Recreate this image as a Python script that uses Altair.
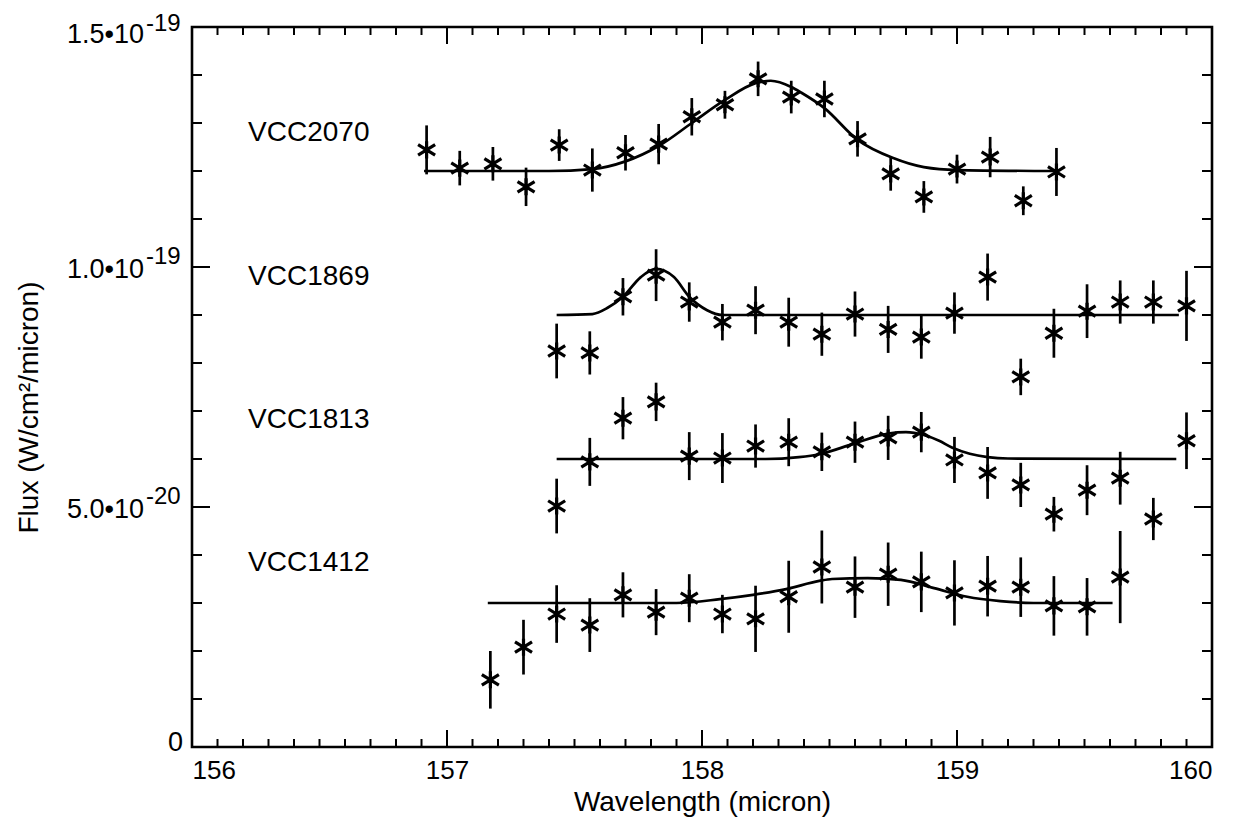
import altair as alt
import pandas as pd

# ---------------- data (flux in units of 1e-20 W/cm^2/micron) -------------
wave_2070 = [156.92, 157.05, 157.18, 157.31, 157.44, 157.57, 157.70, 157.83, 157.96, 158.09,
             158.22, 158.35, 158.48, 158.61, 158.74, 158.87, 159.00, 159.13, 159.26, 159.39]
flux_2070 = [12.44, 12.06, 12.15, 11.67, 12.54, 12.02, 12.38, 12.56, 13.13, 13.38,
             13.92, 13.54, 13.50, 12.67, 11.94, 11.46, 12.04, 12.29, 11.38, 11.98]
err_2070 = [0.51, 0.36, 0.35, 0.40, 0.33, 0.45, 0.37, 0.42, 0.39, 0.29,
            0.36, 0.34, 0.38, 0.37, 0.35, 0.33, 0.30, 0.42, 0.30, 0.50]

wave_1869 = [157.43, 157.56, 157.69, 157.82, 157.95, 158.08, 158.21, 158.34, 158.47, 158.60,
             158.73, 158.86, 158.99, 159.12, 159.25, 159.38, 159.51, 159.64, 159.77, 159.90]
flux_1869 = [8.25, 8.21, 9.38, 9.83, 9.27, 8.85, 9.10, 8.85, 8.60, 9.02,
             8.70, 8.54, 9.04, 9.79, 7.71, 8.62, 9.08, 9.27, 9.27, 9.19]
err_1869 = [0.57, 0.45, 0.39, 0.54, 0.41, 0.38, 0.50, 0.51, 0.45, 0.47,
            0.49, 0.45, 0.43, 0.49, 0.38, 0.51, 0.56, 0.45, 0.45, 0.73]

wave_1813 = [157.43, 157.56, 157.69, 157.82, 157.95, 158.08, 158.21, 158.34, 158.47, 158.60,
             158.73, 158.86, 158.99, 159.12, 159.25, 159.38, 159.51, 159.64, 159.77, 159.90]
flux_1813 = [5.02, 5.94, 6.85, 7.19, 6.06, 6.02, 6.27, 6.35, 6.15, 6.35,
             6.44, 6.56, 5.98, 5.71, 5.46, 4.85, 5.35, 5.60, 4.75, 6.38]
err_1813 = [0.57, 0.50, 0.44, 0.40, 0.50, 0.52, 0.45, 0.50, 0.40, 0.43,
            0.46, 0.42, 0.48, 0.54, 0.46, 0.36, 0.52, 0.55, 0.44, 0.59]

wave_1412 = [157.17, 157.30, 157.43, 157.56, 157.69, 157.82, 157.95, 158.08, 158.21, 158.34,
             158.47, 158.60, 158.73, 158.86, 158.99, 159.12, 159.25, 159.38, 159.51, 159.64]
flux_1412 = [1.40, 2.08, 2.77, 2.54, 3.17, 2.81, 3.10, 2.77, 2.67, 3.13,
             3.75, 3.33, 3.60, 3.44, 3.21, 3.35, 3.33, 2.94, 2.92, 3.54]
err_1412 = [0.60, 0.57, 0.60, 0.56, 0.47, 0.48, 0.50, 0.40, 0.69, 0.75,
            0.76, 0.64, 0.66, 0.63, 0.68, 0.63, 0.62, 0.62, 0.60, 0.96]

# fitted Gaussian-line curves, sampled from the figure
fit_wave_2070 = [156.91, 157.40, 157.57, 157.70, 157.83, 157.96, 158.09, 158.21, 158.27,
                 158.35, 158.39, 158.48, 158.61, 158.75, 158.87, 159.00, 159.38]
fit_flux_2070 = [12.0, 12.0, 12.04, 12.2, 12.52, 13.0, 13.48, 13.83, 13.88,
                 13.75, 13.63, 13.31, 12.65, 12.27, 12.08, 12.02, 12.0]

fit_wave_1869 = [157.43, 157.57, 157.63, 157.69, 157.76, 157.82, 157.89, 157.95, 158.02,
                 158.08, 159.87]
fit_flux_1869 = [9.0, 9.02, 9.15, 9.38, 9.79, 9.96, 9.79, 9.38, 9.10, 9.0, 9.0]

fit_wave_1813 = [157.43, 158.25, 158.38, 158.46, 158.59, 158.73, 158.80, 158.87, 158.93,
                 158.98, 159.05, 159.12, 159.20, 159.86]
fit_flux_1813 = [6.0, 6.0, 6.04, 6.10, 6.31, 6.53, 6.56, 6.50, 6.38, 6.24, 6.11, 6.04, 6.01, 6.0]

fit_wave_1412 = [157.16, 157.90, 158.07, 158.20, 158.33, 158.46, 158.51, 158.65, 158.78,
                 158.91, 159.04, 159.17, 159.30, 159.61]
fit_flux_1412 = [3.0, 3.0, 3.08, 3.17, 3.29, 3.46, 3.50, 3.52, 3.48, 3.31, 3.13, 3.04, 3.0, 3.0]

label_names = ["VCC2070", "VCC1869", "VCC1813", "VCC1412"]
label_wave = [156.22, 156.22, 156.22, 156.22]
label_flux = [12.79, 9.79, 6.81, 3.83]

x_major = [156, 157, 158, 159, 160]
x_inner_major = [157, 158, 159]
x_minor = [156.1, 156.2, 156.3, 156.4, 156.5, 156.6, 156.7, 156.8, 156.9,
           157.1, 157.2, 157.3, 157.4, 157.5, 157.6, 157.7, 157.8, 157.9,
           158.1, 158.2, 158.3, 158.4, 158.5, 158.6, 158.7, 158.8, 158.9,
           159.1, 159.2, 159.3, 159.4, 159.5, 159.6, 159.7, 159.8, 159.9]
y_axis_values = [0, 5, 10, 15]
y_zero = [0]
y_zero_label = ["0"]
y_exp_ticks = [5, 10, 15]
y_mantissa = ["5.0\u202210", "1.0\u202210", "1.5\u202210"]
y_exponent = ["-20", "-19", "-19"]
y_inner_major = [5, 10]
y_minor = [1, 2, 3, 4, 6, 7, 8, 9, 11, 12, 13, 14]

# ---------------- build tables ----------------
frames = []
for name, w, f, e in [("VCC2070", wave_2070, flux_2070, err_2070),
                      ("VCC1869", wave_1869, flux_1869, err_1869),
                      ("VCC1813", wave_1813, flux_1813, err_1813),
                      ("VCC1412", wave_1412, flux_1412, err_1412)]:
    frames.append(pd.DataFrame({"name": name, "wave": w, "flux": f, "err": e}))
pts = pd.concat(frames, ignore_index=True)
pts["lo"] = pts["flux"] - pts["err"]
pts["hi"] = pts["flux"] + pts["err"]

fits = pd.concat([
    pd.DataFrame({"name": "VCC2070", "wave": fit_wave_2070, "flux": fit_flux_2070}),
    pd.DataFrame({"name": "VCC1869", "wave": fit_wave_1869, "flux": fit_flux_1869}),
    pd.DataFrame({"name": "VCC1813", "wave": fit_wave_1813, "flux": fit_flux_1813}),
    pd.DataFrame({"name": "VCC1412", "wave": fit_wave_1412, "flux": fit_flux_1412}),
], ignore_index=True)

labels = pd.DataFrame({"name": label_names, "wave": label_wave, "flux": label_flux})
ylab_zero = pd.DataFrame({"flux": y_zero, "txt": y_zero_label})
ylab_exp = pd.DataFrame({"flux": y_exp_ticks, "man": y_mantissa, "ex": y_exponent})

W, H = 1020, 720
XT = "Wavelength (micron)"
YT = "Flux (W/cm\u00b2/micron)"
xscale = alt.Scale(domain=[156, 160], nice=False, zero=False)
yscale = alt.Scale(domain=[0, 15], nice=False, zero=False)

x_axis = alt.Axis(values=x_major, format="d", ticks=False, domain=False, grid=False,
                  labelFontSize=26, labelPadding=10, labelColor="black",
                  titleFontSize=28, titleFontWeight="normal", titleColor="black",
                  titlePadding=5)
y_axis = alt.Axis(values=y_axis_values, labels=False, ticks=False,
                  domain=False, grid=False,
                  titleFontSize=28, titleFontWeight="normal", titleColor="black",
                  titleX=-149, titleY=380, titleAngle=270, titleBaseline="bottom",
                  titleAlign="center")

X = alt.X("wave:Q", scale=xscale, title=XT)
Y = alt.Y("flux:Q", scale=yscale, title=YT)

ink = "black"
star = "M-1,-0.62L1,0.62M-1,0.62L1,-0.62M0,-1L0,1"

bars = alt.Chart(pts).mark_rule(color=ink, strokeWidth=2.7).encode(
    x=alt.X("wave:Q", scale=xscale, title=XT, axis=x_axis),
    y=alt.Y("lo:Q", scale=yscale, title=YT, axis=y_axis),
    y2="hi:Q")

stars = alt.Chart(pts).mark_point(shape=star, size=290, filled=False, color=ink,
                                   strokeWidth=3.2, opacity=1).encode(x=X, y=Y)

lines = alt.Chart(fits).mark_line(color=ink, strokeWidth=2.7, interpolate="monotone").encode(
    x=X, y=Y, detail="name:N")

texts = alt.Chart(labels).mark_text(align="left", baseline="middle", fontSize=28,
                                    color=ink).encode(x=X, y=Y, text="name:N")

# y tick labels written as mantissa plus raised exponent
zero_lab = alt.Chart(ylab_zero).mark_text(align="right", baseline="middle", fontSize=27,
                                          color=ink, dy=-4).encode(
    x=alt.value(-9), y=Y, text="txt:N")
man_lab = alt.Chart(ylab_exp).transform_filter("datum.flux < 15").mark_text(
    align="right", baseline="middle", fontSize=27, color=ink, dy=3).encode(
    x=alt.value(-48), y=Y, text="man:N")
exp_lab = alt.Chart(ylab_exp).transform_filter("datum.flux < 15").mark_text(
    align="left", baseline="middle", fontSize=24, color=ink, dy=-10).encode(
    x=alt.value(-46), y=Y, text="ex:N")
# the top label sits a little lower, as in the figure, so it stays on the page
man_top = alt.Chart(ylab_exp).transform_filter("datum.flux >= 15").mark_text(
    align="right", baseline="middle", fontSize=27, color=ink, dy=8).encode(
    x=alt.value(-48), y=Y, text="man:N")
exp_top = alt.Chart(ylab_exp).transform_filter("datum.flux >= 15").mark_text(
    align="left", baseline="middle", fontSize=24, color=ink, dy=-3).encode(
    x=alt.value(-46), y=Y, text="ex:N")


def xticks(vals, length):
    d = pd.DataFrame({"wave": vals})
    b = alt.Chart(d).mark_rule(color=ink, strokeWidth=2).encode(
        x=X, y=alt.value(H), y2=alt.value(H - length))
    t = alt.Chart(d).mark_rule(color=ink, strokeWidth=2).encode(
        x=X, y=alt.value(0), y2=alt.value(length))
    return [b, t]


def yticks(vals, length):
    d = pd.DataFrame({"flux": vals})
    l = alt.Chart(d).mark_rule(color=ink, strokeWidth=2).encode(
        y=Y, x=alt.value(0), x2=alt.value(length))
    r = alt.Chart(d).mark_rule(color=ink, strokeWidth=2).encode(
        y=Y, x=alt.value(W), x2=alt.value(W - length))
    return [l, r]


tick_layers = (xticks(x_minor, 8) + xticks(x_inner_major, 17)
               + yticks(y_minor, 10) + yticks(y_inner_major, 18))

chart = alt.layer(bars, *tick_layers, lines, stars, texts,
                  zero_lab, man_lab, exp_lab, man_top, exp_top).properties(
    width=W, height=H,
    autosize=alt.AutoSizeParams(type="none"),
    padding={"left": 184, "top": 19, "right": 20, "bottom": 70},
    background="white",
).configure(font="Liberation Sans").configure_view(
    stroke=ink, strokeWidth=2.6
)

chart.save("out.html", embed_options={"renderer": "svg", "actions": False})
